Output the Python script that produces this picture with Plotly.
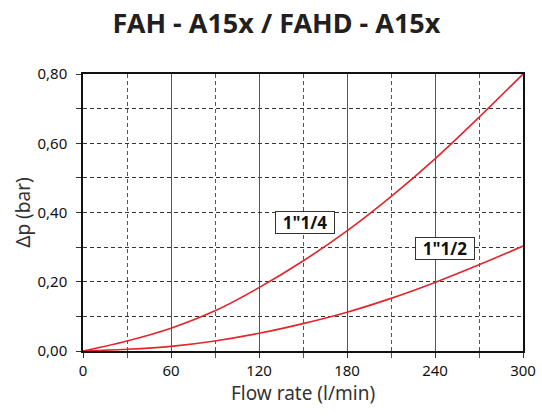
import plotly.graph_objects as go

# Data
flow = [0, 30, 60, 90, 120, 150, 180, 210, 240, 270, 300]
dp_1_1_4 = [0.0, 0.029, 0.066, 0.116, 0.183, 0.260, 0.347, 0.446, 0.555, 0.675, 0.800]
dp_1_1_2 = [0.0, 0.005, 0.0135, 0.029, 0.051, 0.079, 0.112, 0.152, 0.198, 0.249, 0.303]

labels = ['1"1/4', '1"1/2']
label_x = [151.4, 246.7]
label_y = [0.3705, 0.2955]

x_ticks = [0, 60, 120, 180, 240, 300]
y_ticks = [0.0, 0.2, 0.4, 0.6, 0.8]

RED = "#e3242b"
FONT = "Noto Sans"

fig = go.Figure()
for name, ys in zip(labels, [dp_1_1_4, dp_1_1_2]):
    fig.add_trace(go.Scatter(x=flow, y=ys, mode="lines", name=name,
                             line=dict(color=RED, width=1.6, shape="spline", smoothing=1.0),
                             showlegend=False, hoverinfo="skip"))

for t, x, y in zip(labels, label_x, label_y):
    fig.add_annotation(x=x, y=y, text="<b>" + t + "</b>", showarrow=False,
                       font=dict(family="Open Sans", size=17, color="#111"),
                       bgcolor="white", bordercolor="#333", borderwidth=1,
                       borderpad=0, width=58, height=21)

fig.update_layout(
    width=542, height=420,
    margin=dict(l=83, r=19, t=74, b=69),
    paper_bgcolor="white", plot_bgcolor="white",
    separators=",.",
    font=dict(family=FONT, color="#111"),
    title=dict(text="<b>FAH - A15x / FAHD - A15x</b>", x=0.51, xanchor="center",
               y=0.943, yanchor="middle",
               font=dict(family=FONT, size=27, color="#231f20")),
)

fig.update_xaxes(
    range=[0, 300], tickvals=x_ticks, ticks="outside", ticklen=5, tickcolor="#333",
    tickfont=dict(size=15, color="#111"),
    showline=True, mirror=True, linecolor="#111", linewidth=1.5,
    showgrid=True, gridcolor="#555", gridwidth=1,
    zeroline=False, automargin=False,
    minor=dict(dtick=30, ticks="outside", ticklen=5, tickcolor="#555",
               showgrid=True, gridcolor="#555", griddash="4px,3px", gridwidth=1),
    title=dict(text="Flow rate (l/min)", font=dict(size=19, color="#333"), standoff=8),
)
fig.update_yaxes(
    range=[0, 0.8], tickvals=y_ticks, tickformat=".2f", ticks="outside", ticklen=5,
    tickcolor="#333", tickfont=dict(size=15, color="#111"),
    ticklabelstandoff=6,
    showline=True, mirror=True, linecolor="#111", linewidth=1.5,
    showgrid=True, gridcolor="#333", gridwidth=1, griddash="4px,3px",
    zeroline=False,
    minor=dict(dtick=0.1, ticks="outside", ticklen=5, tickcolor="#333",
               showgrid=True, gridcolor="#333", griddash="4px,3px", gridwidth=1),
    title=dict(text="Δp (bar)", font=dict(size=19, color="#333"), standoff=2),
)

fig.write_html("out.html")
